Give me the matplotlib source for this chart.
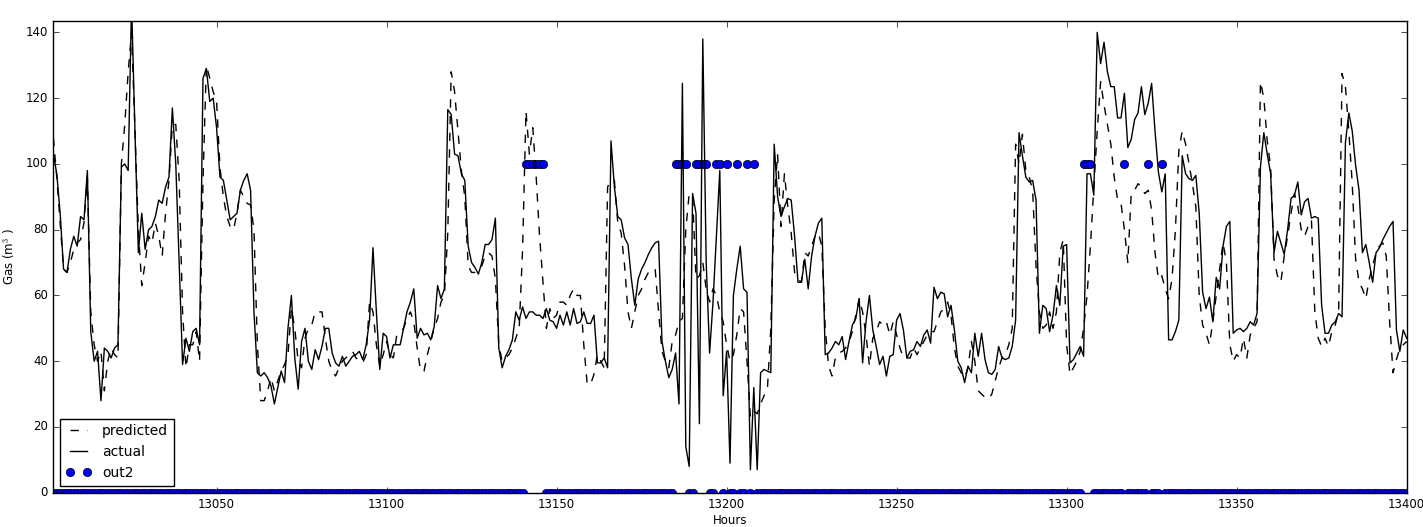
import numpy as np
import matplotlib
matplotlib.use('Agg')
import matplotlib.pyplot as plt

# hourly index of the plotted window
start_hour = 13002
end_hour = 13400

# measured gas use (m^3), one value per hour from 13002 to 13400
actual = [
    103, 97, 85, 68, 67, 74, 78, 75, 84, 83,            # 13002
    98, 49, 40, 43, 28, 44, 43, 41, 44, 45,             # 13012
    99, 100, 98, 149, 110, 73, 85, 74, 80, 81,          # 13022
    84, 89, 88, 93, 96, 117, 100, 70, 39, 47,           # 13032
    43, 49, 50, 45, 126, 129, 119, 120, 111, 96,        # 13042
    95, 89, 83, 84, 85, 92, 95, 97, 92, 55,             # 13052
    36.5, 35.5, 36.5, 35, 32.5, 27, 32, 37, 33.5, 50,   # 13062
    60, 41, 31.5, 46, 50, 40, 37.5, 43.5, 40.5, 44.5,   # 13072
    50, 50, 42.5, 39.5, 38.5, 41.5, 38.5, 40, 41.5, 42, # 13082
    43, 40.5, 45, 52.5, 74.5, 55, 37.5, 48.5, 47.5, 41, # 13092
    45, 45, 45, 50, 55, 58, 62, 47, 50, 48,             # 13102
    48.5, 46.5, 50.5, 63, 59, 62, 116.5, 115, 103, 102.5,  # 13112
    97, 95, 75, 70, 68.5, 66.5, 70, 75.5, 75.5, 77,     # 13122
    83.5, 44, 38, 41.5, 43.5, 46.5, 55, 52.5, 56.5, 53, # 13132
    55, 55, 54, 54, 53, 56, 52.5, 52, 50, 54,           # 13142
    51, 55, 51, 56, 51.5, 52, 55, 51.5, 51.5, 54,       # 13152
    39.5, 39.5, 41, 38, 107, 93, 84, 83, 77.5, 75.5,    # 13162
    65, 57, 65, 68, 70, 72.5, 74.5, 76, 76.5, 46,       # 13172
    40, 35, 37.5, 42.5, 27, 124.5, 14, 8, 91, 85,       # 13182
    21, 138, 70, 42.5, 58, 78, 98, 29.5, 43, 9,         # 13192
    60, 68, 75, 62, 61, 7, 32, 7, 36.5, 37.5,           # 13202
    37, 36.5, 106, 90, 84, 87, 89.5, 89, 78, 64,        # 13212
    64, 71, 62, 72, 78, 82, 83.5, 42, 42.5, 44,         # 13222
    46, 45, 47.5, 40.5, 46, 51, 53, 59, 39.5, 52,       # 13232
    60, 49.5, 44.5, 39, 41.5, 35.5, 41.5, 42, 52.5, 54.5,  # 13242
    49.5, 41, 43, 43.5, 46, 44.5, 48, 49.5, 45.5, 62.5, # 13252
    59, 61, 60.5, 53.5, 57, 49.5, 40, 38, 33.5, 38.5,   # 13262
    36.5, 48.5, 41.5, 48.5, 40.5, 36.5, 36, 37.5, 44.5, 41,  # 13272
    40.5, 41, 44.5, 52.5, 109.5, 102.5, 96, 94.5, 95, 89,    # 13282
    48.5, 57, 56, 49, 54, 63, 57, 75, 75.5, 39.5,       # 13292
    40.5, 42.5, 44.5, 41.5, 97, 97, 90.5, 140, 130.5, 137,   # 13302
    128, 123.5, 123.5, 114, 114, 121.5, 105, 107.5, 113.5, 115.5,  # 13312
    123.5, 115, 118.5, 124.5, 110, 97.5, 91.5, 97, 46.5, 46.5,  # 13322
    49, 52.5, 102.5, 97, 95.5, 95, 96.5, 85, 61, 56,    # 13332
    59.5, 52, 65.5, 62, 75, 81, 82.5, 48.5, 49.5, 50,   # 13342
    49, 50, 52, 51, 54.5, 99, 109.5, 103, 97, 73,       # 13352
    79.5, 76, 72.5, 80, 89.5, 90.5, 94.5, 84.5, 88.5, 89.5,  # 13362
    83.5, 84, 83.5, 57, 48.5, 48.5, 51, 52, 54.5, 53.5, # 13372
    106.5, 115.5, 110, 99.5, 92, 73, 75.5, 70, 64, 73,  # 13382
    74.5, 77, 79, 81, 82.5, 49.5, 43, 49.5, 47,         # 13392
]

# model prediction for the same hours
predicted = [
    108, 96, 82, 68, 67, 70, 74, 76, 77, 82,            # 13002
    96, 55, 45, 40, 43, 31, 40, 44, 42, 41,             # 13012
    100, 112, 128, 140, 110, 80, 63, 70, 78, 76,        # 13022
    82, 78, 72, 85, 95, 112, 112, 95, 55, 38,           # 13032
    45, 45, 49, 40, 95, 130, 126, 122, 119, 99,         # 13042
    90, 84, 81, 80, 85, 92, 90, 88, 87.5, 80,           # 13052
    45, 28, 28, 31, 35, 31, 34, 37, 39, 42,             # 13062
    56, 50, 40, 38, 47, 50, 51, 55, 55, 55,             # 13072
    47, 40, 37, 35.5, 38, 40, 41, 42, 43, 41,           # 13082
    40, 39.5, 42, 58, 55, 45, 38.5, 42, 46, 42,         # 13092
    41, 48, 49, 50, 53, 55, 52, 44, 37, 37,             # 13102
    42, 46, 50, 53, 58, 60, 79, 128, 122, 110,          # 13112
    98, 90, 69, 67, 67, 68, 69, 72, 73, 72,             # 13122
    65, 45, 40, 41, 42, 44, 47, 50, 74, 116,            # 13132
    103, 111, 96, 78, 64, 50, 56, 53, 54, 58,           # 13142
    58, 57, 60, 62, 60, 60, 45, 33, 33, 36,             # 13152
    42, 40, 38, 93, 95, 95, 82, 79, 69, 55,             # 13162
    50, 55, 60, 62, 65, 67, 68, 68, 55, 43,             # 13172
    40, 38, 46, 48, 52, 53, 80, 91, 90, 65,             # 13182
    66, 70, 62, 58, 62, 60, 55, 52, 45, 40,             # 13192
    42, 48, 56, 55, 40, 23, 25, 24, 27, 29.5,           # 13202
    31.5, 50, 89, 103, 81, 97, 87, 79, 67, 65,          # 13212
    64, 73, 72, 75, 78, 79, 75, 50, 38.5, 35.5,         # 13222
    41, 42.5, 43, 44, 46, 49, 54, 59, 55, 48,           # 13232
    38.5, 47, 49, 52, 51, 52, 48, 52, 48, 44,           # 13242
    41, 41, 41, 44, 42, 44, 46, 48, 49, 49,             # 13252
    52, 55, 56, 58, 54, 44, 38.5, 36.5, 35, 38,         # 13262
    46, 40, 31, 30, 29, 28.5, 30, 34, 38, 41,           # 13272
    42, 45, 50, 106, 100, 109, 98, 96, 92, 69,          # 13282
    55, 50, 51, 55, 50, 55, 73, 77, 45, 36,             # 13292
    38, 40, 43, 50, 60, 75, 93, 110, 125, 118,          # 13302
    112, 106, 96, 89, 88, 80, 70, 91, 92, 94,           # 13312
    93, 91, 92, 86, 73, 65, 66, 62, 59, 65,             # 13322
    80, 104, 110, 106, 100, 94, 87, 60, 51, 48.5,       # 13332
    45, 52, 60, 68, 76, 70, 45, 40, 42, 41,             # 13342
    47, 41, 48, 50, 52, 125, 120, 107, 99, 71,          # 13352
    66, 64, 72, 78, 85, 91, 87, 80, 78, 81,             # 13362
    83, 55, 47, 44.5, 47, 44.5, 49, 51, 55, 127.5,      # 13372
    123.5, 110, 94, 71, 64, 62, 59, 65, 69, 73,         # 13382
    75, 76, 72, 52, 36.5, 40.5, 44, 45, 46,             # 13392
]

# hours flagged by out2 (drawn at 100, all other hours at 0)
flag_hours = [13141, 13142, 13143, 13144, 13145, 13146,
              13185, 13186, 13187, 13188,
              13191, 13192, 13193, 13194,
              13197, 13198, 13200, 13203, 13206, 13208,
              13305, 13306, 13307, 13317, 13324, 13328]
flag_level = 100

x_ticks = [13050, 13100, 13150, 13200, 13250, 13300, 13350, 13400]
y_ticks = [0, 20, 40, 60, 80, 100, 120, 140]


def main():
    hours = np.arange(start_hour, end_hour + 1)
    out2 = np.where(np.isin(hours, flag_hours), flag_level, 0)

    plt.style.use('classic')
    plt.rcParams['font.family'] = ['DejaVu Sans']

    fig = plt.figure(figsize=(14.23, 5.27), dpi=100, facecolor='white')
    ax = fig.add_axes([0.0375, 0.065, 0.951, 0.896])

    ax.plot(hours, predicted, 'k--', linewidth=1.0, label='predicted', zorder=3)
    ax.plot(hours, actual, 'k-', linewidth=1.0, label='actual', zorder=3)
    ax.plot(hours, out2, 'bo', markersize=6, markeredgewidth=0.5,
            label='out2', zorder=2)

    ax.set_xlim(start_hour, end_hour)
    ax.set_ylim(0, 143.6)
    ax.set_xticks(x_ticks)
    ax.set_xticklabels([str(t) for t in x_ticks])
    ax.set_yticks(y_ticks)
    ax.set_yticklabels([str(t) for t in y_ticks])
    ax.tick_params(labelsize=8.5)

    ax.set_xlabel('Hours', fontsize=8.5, labelpad=2)
    ax.set_ylabel('Gas (m$^3$ )', fontsize=8.5, labelpad=6)

    ax.legend(loc='lower left', fontsize=10, numpoints=2,
              borderaxespad=0.5, handlelength=1.8)

    fig.savefig('out.png', dpi=100, facecolor='white')


if __name__ == "__main__":
    main()
